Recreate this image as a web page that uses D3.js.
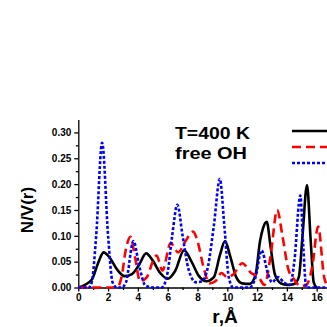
<!DOCTYPE html>
<meta charset="utf-8">
<style>

    body {
        margin: 0;
        background: #fff;
    }

    .axis path,
    .axis line {
        stroke: #000;
        stroke-width: 1.3px;
    }

    .axis text {
        font: bold 10px "Liberation Sans", Arial, sans-serif;
        fill: #000;
    }

    .label {
        font: bold 16px "Liberation Sans", Arial, sans-serif;
        fill: #000;
    }

    .black {
        fill: none;
        stroke: #000;
        stroke-width: 2.6px;
    }

    .red {
        fill: none;
        stroke: #f00;
        stroke-width: 2.6px;
        stroke-dasharray: 9, 5;
    }

    .blue {
        fill: none;
        stroke: #00f;
        stroke-width: 2.6px;
        stroke-dasharray: 3, 2;
    }

</style>
<svg></svg>
<script src="https://cdn.jsdelivr.net/npm/d3@7"></script>
<script>

    var width = 327,
        height = 327;

    // solid black curve
    var blackR = [0, 0.9, 1.3, 1.7, 2.1, 2.6, 3.1, 3.6, 4.1, 4.55, 5.0, 5.5, 6.0, 6.5, 7.1, 7.6, 8.1, 8.6, 9.1, 9.5, 9.85, 10.2, 10.6, 11.0, 11.5, 11.9, 12.2, 12.4, 12.65, 12.9, 13.2, 13.6, 14.0, 14.5, 14.8, 15.05, 15.35, 15.6, 15.8, 16.0];
    var blackV = [0, 0.015, 0.045, 0.068, 0.058, 0.035, 0.022, 0.026, 0.045, 0.066, 0.052, 0.028, 0.017, 0.032, 0.072, 0.05, 0.022, 0.012, 0.02, 0.062, 0.09, 0.06, 0.02, 0.008, 0.007, 0.025, 0.09, 0.115, 0.127, 0.08, 0.025, 0.008, 0.005, 0.007, 0.02, 0.1, 0.198, 0.09, 0.01, 0];

    // red dashed curve
    var redR = [0, 2.6, 2.9, 3.2, 3.5, 3.8, 4.15, 4.6, 5.0, 5.25, 5.65, 6.2, 6.7, 7.2, 7.7, 8.0, 8.4, 8.8, 9.2, 9.6, 10.0, 10.4, 11.0, 11.6, 12.1, 12.5, 12.9, 13.35, 13.7, 14.1, 14.5, 14.9, 15.3, 15.7, 16.1, 16.5, 16.8];
    var redV = [0, 0, 0.02, 0.075, 0.098, 0.06, 0.012, 0.02, 0.05, 0.062, 0.033, 0.086, 0.068, 0.09, 0.108, 0.09, 0.04, 0.008, 0.012, 0.028, 0.02, 0.025, 0.047, 0.028, 0.02, 0.005, 0.06, 0.15, 0.1, 0.035, 0.015, 0.003, 0.005, 0.04, 0.118, 0.02, 0];

    // blue dotted curve
    var blueR = [0, 0.7, 0.9, 1.2, 1.6, 2.0, 2.3, 2.6, 2.9, 3.2, 3.7, 4.1, 4.5, 5.0, 5.6, 6.0, 6.3, 6.65, 7.0, 7.4, 7.9, 8.3, 8.7, 9.1, 9.5, 9.8, 10.1, 10.4, 11.0, 11.5, 11.9, 12.3, 12.7, 13.0, 13.4, 13.8, 14.2, 14.5, 14.9, 15.1, 15.3, 16.8];
    var blueV = [0, 0, 0.01, 0.1, 0.28, 0.1, 0.01, 0, 0, 0.01, 0.09, 0.04, 0.004, 0, 0, 0.03, 0.1, 0.16, 0.1, 0.035, 0.01, 0.012, 0.04, 0.12, 0.21, 0.12, 0.02, 0, 0, 0, 0.02, 0.072, 0.03, 0.01, 0.02, 0.01, 0.005, 0.05, 0.178, 0.08, 0, 0];

    var yTicks = [0, 0.05, 0.10, 0.15, 0.20, 0.25, 0.30];
    var xTicks = [0, 2, 4, 6, 8, 10, 12, 14, 16];

    var x = d3.scaleLinear().domain([0, 16.8]).range([78.3, 328.6]);
    var y = d3.scaleLinear().domain([0, 0.325]).range([287.5, 119.5]);

    var svg = d3.select("svg")
        .attr("width", width)
        .attr("height", height);

    // minor ticks first, then the main axes on top
    svg.append("g")
        .attr("class", "axis")
        .attr("transform", "translate(" + x(0) + ",0)")
        .call(d3.axisLeft(y).tickValues(d3.range(0.025, 0.3, 0.05)).tickSize(2.5).tickFormat(""))
        .select(".domain").remove();

    svg.append("g")
        .attr("class", "axis")
        .attr("transform", "translate(0," + y(0) + ")")
        .call(d3.axisBottom(x).tickValues(d3.range(1, 17, 2)).tickSize(2.5).tickFormat(""))
        .select(".domain").remove();

    svg.append("g")
        .attr("class", "axis")
        .attr("transform", "translate(" + x(0) + ",0)")
        .call(d3.axisLeft(y).tickValues(yTicks).tickSize(4).tickPadding(3).tickSizeOuter(0).tickFormat(d3.format(".2f")));

    svg.append("g")
        .attr("class", "axis")
        .attr("transform", "translate(0," + y(0) + ")")
        .call(d3.axisBottom(x).tickValues(xTicks).tickSize(4).tickPadding(2).tickSizeOuter(0).tickFormat(d3.format("d")));

    var line = d3.line()
        .x(function(d) { return x(d[0]); })
        .y(function(d) { return y(d[1]); })
        .curve(d3.curveMonotoneX);

    function pairs(rs, vs) {
        return rs.map(function(r, i) { return [r, vs[i]]; });
    }

    svg.append("path").datum(pairs(blackR, blackV)).attr("class", "black").attr("d", line);
    svg.append("path").datum(pairs(redR, redV)).attr("class", "red").attr("d", line);
    svg.append("path").datum(pairs(blueR, blueV)).attr("class", "blue").attr("d", line);

    // legend (its text is cut off in the source figure)
    var legend = [["black", 131], ["red", 147], ["blue", 163]];
    svg.selectAll(".legend")
        .data(legend)
        .enter().append("line")
        .attr("class", function(d) { return d[0]; })
        .attr("x1", 292).attr("x2", 330)
        .attr("y1", function(d) { return d[1]; })
        .attr("y2", function(d) { return d[1]; });

    // the source lettering is a bit wide, so stretch it
    svg.append("text").attr("class", "label")
        .attr("x", 175).attr("y", 138.5)
        .attr("textLength", 75).attr("lengthAdjust", "spacingAndGlyphs")
        .text("T=400 K");
    svg.append("text").attr("class", "label")
        .attr("x", 175).attr("y", 158.5)
        .attr("textLength", 72).attr("lengthAdjust", "spacingAndGlyphs")
        .text("free OH");

    svg.append("text")
        .attr("class", "label")
        .style("font-size", "17px")
        .attr("text-anchor", "middle")
        .attr("transform", "translate(33,210) rotate(-90)")
        .text("N/V(r)");

    svg.append("text")
        .attr("class", "label")
        .style("font-size", "19px")
        .attr("text-anchor", "middle")
        .attr("x", 225).attr("y", 323)
        .text("r,Å");

</script>
